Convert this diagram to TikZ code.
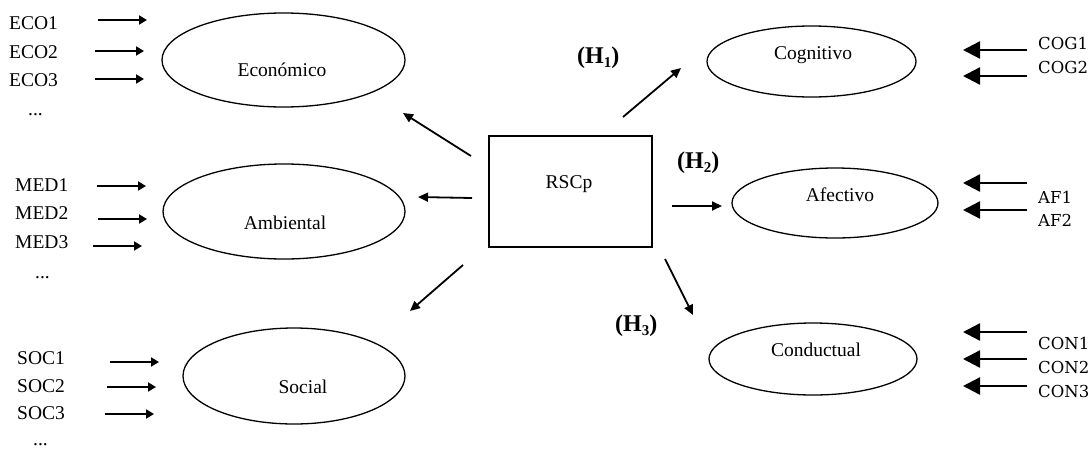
\documentclass[tikz,border=0pt]{standalone}
\usepackage{fontspec}
\newfontfamily\tnr{Liberation Serif}
\newfontfamily\dvs{DejaVu Serif}
\usetikzlibrary{arrows.meta,shapes.geometric}
\newcommand\hypsub[1]{\raisebox{-0.2em}{\fontsize{15}{15}\selectfont #1}}
\begin{document}
\begin{tikzpicture}[x=1pt,y=-1pt,
  lat/.style={ellipse,draw,line width=1.3pt,inner sep=0pt},
  txt/.style={font=\tnr\fontsize{19.5}{22}\selectfont,inner sep=0pt},
  ind/.style={font=\dvs\fontsize{16.5}{20}\selectfont,inner sep=0pt,anchor=base west},
  hyp/.style={font=\tnr\bfseries\fontsize{24}{28}\selectfont,inner sep=0pt,anchor=base west},
  sarr/.style={line width=1.8pt,-{Triangle[length=8pt,width=9pt]}},
  carr/.style={line width=1.8pt,-{Triangle[length=10pt,width=9pt]}},
  barr/.style={line width=2.4pt,-{Triangle[length=17pt,width=17pt]}},
]
\useasboundingbox (0,0) rectangle (1092,450);

% latent constructs
\node[lat,minimum width=243pt,minimum height=94pt] (eco) at (283.5,60) {};
\node[lat,minimum width=242pt,minimum height=95pt] (amb) at (284,211.5) {};
\node[lat,minimum width=222pt,minimum height=96pt] (soc) at (294,376) {};
\node[lat,minimum width=209pt,minimum height=71pt] (cog) at (811.5,61.5) {};
\node[lat,minimum width=206pt,minimum height=70pt] (afe) at (835,203) {};
\node[lat,minimum width=208pt,minimum height=72pt] (con) at (813,359) {};

\node[txt,anchor=base] (ecoL) at (282,76.5) {Económico};
\node[txt,anchor=base] (ambL) at (285,229.5) {Ambiental};
\node[txt,anchor=base] (socL) at (303,393.5) {Social};
\node[txt,anchor=base] (cogL) at (813,59.5) {Cognitivo};
\node[txt,anchor=base] (afeL) at (840,201.5) {Afectivo};
\node[txt,anchor=base] (conL) at (816,356.5) {Conductual};

% central construct
\node[draw,line width=1.2pt,minimum width=163pt,minimum height=111pt,inner sep=0pt] (rscp) at (570.5,191.5) {};
\node[txt,anchor=base] (rscpL) at (569,188.5) {RSCp};

% left-hand indicators
\foreach \n/\x/\y/\ax/\bx/\ay in {
  ECO1/9/29.5/98/147/20, ECO2/9/58.5/95/144/51, ECO3/9/86.5/95/144/79,
  MED1/15/191.5/97/146/186, MED2/15/219.5/98/147/219, MED3/15/248.5/93/142/246,
  SOC1/17/364.5/110/159/362, SOC2/17/392.5/107/156/387, SOC3/17/419.5/105/154/414} {
  \node[txt,anchor=base west] (\n) at (\x,\y) {\n};
  \coordinate (\n-a) at (\ax,\ay);
  \coordinate (\n-b) at (\bx,\ay);
  \draw[sarr] (\n-a) -- (\n-b);
}
\node[txt,anchor=base west] (ecoD) at (28,115) {...};
\node[txt,anchor=base west] (ambD) at (35,278) {...};
\node[txt,anchor=base west] (socD) at (33,445) {...};

% right-hand indicators
\foreach \n/\y/\ay in {
  COG1/49.3/50, COG2/73.3/76,
  AF1/203/183, AF2/226/210,
  CON1/349.3/332, CON2/373.3/359, CON3/397.3/386} {
  \node[ind] (\n) at (1038,\y) {\n};
  \coordinate (\n-a) at (1027,\ay);
  \coordinate (\n-b) at (963,\ay);
  \draw[barr] (\n-a) -- (\n-b);
}

% structural paths
\coordinate (r-eco-a) at (471,156); \coordinate (r-eco-b) at (403,113);
\coordinate (r-amb-a) at (472,198); \coordinate (r-amb-b) at (418,197);
\coordinate (r-soc-a) at (463,265); \coordinate (r-soc-b) at (410,311);
\coordinate (r-cog-a) at (623,117); \coordinate (r-cog-b) at (681,68);
\coordinate (r-afe-a) at (672,206); \coordinate (r-afe-b) at (722,206);
\coordinate (r-con-a) at (665,259); \coordinate (r-con-b) at (693,315);
\draw[carr] (r-eco-a) -- (r-eco-b);
\draw[carr] (r-amb-a) -- (r-amb-b);
\draw[carr] (r-soc-a) -- (r-soc-b);
\draw[carr] (r-cog-a) -- (r-cog-b);
\draw[carr] (r-afe-a) -- (r-afe-b);
\draw[carr] (r-con-a) -- (r-con-b);

% hypotheses
\node[hyp] (h1) at (577,63) {(H\hypsub{1})};
\node[hyp] (h2) at (677,168) {(H\hypsub{2})};
\node[hyp] (h3) at (615,331) {(H\hypsub{3})};
\end{tikzpicture}
\end{document}
